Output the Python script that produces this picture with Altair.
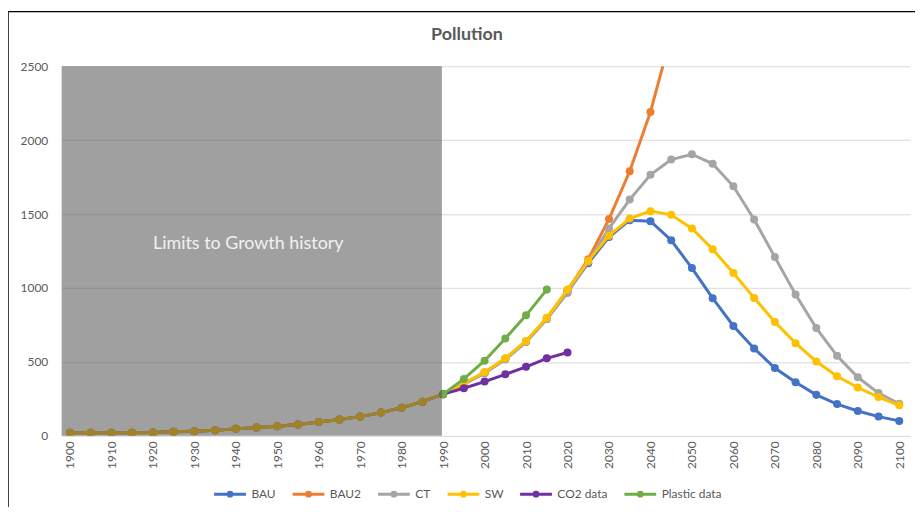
import altair as alt
import pandas as pd

FONT = "Lato"

YEARS = list(range(1900, 2105, 5))

# Shared Limits-to-Growth history 1900-1985
HISTORY = [20, 20, 20, 20, 22, 27, 31, 38, 47, 56, 65, 76, 94, 110, 130, 157, 190, 231]

# Scenario values from 1990 onward
BAU = [282, 350, 425, 518, 636, 790, 975, 1168, 1345, 1459, 1452, 1323, 1135, 931,
       743, 591, 459, 362, 277, 215, 168, 130, 101]
BAU2 = [282, 355, 428, 522, 640, 795, 985, 1195, 1466, 1790, 2191, 2710]
CT = [282, 352, 426, 519, 636, 790, 967, 1178, 1403, 1598, 1766, 1869, 1905, 1840,
      1688, 1464, 1209, 956, 729, 541, 396, 289, 217]
SW = [282, 356, 430, 524, 642, 799, 989, 1184, 1354, 1470, 1520, 1495, 1403, 1262,
      1101, 933, 770, 627, 503, 403, 327, 262, 206]
CO2_DATA = [282, 322, 367, 416, 467, 524, 564]
PLASTIC_DATA = [282, 385, 508, 658, 815, 989]

NAMES = ["BAU", "BAU2", "CT", "SW", "CO2 data", "Plastic data"]
COLORS = ["#4472C4", "#ED7D31", "#A5A5A5", "#FFC000", "#7030A0", "#70AD47"]
Y_TICKS = [0, 500, 1000, 1500, 2000, 2500]
SHADE_LABEL = "Limits to Growth history"

series_values = {
    "BAU": HISTORY + BAU,
    "BAU2": HISTORY + BAU2,
    "CT": HISTORY + CT,
    "SW": HISTORY + SW,
    "CO2 data": CO2_DATA,
    "Plastic data": PLASTIC_DATA,
}
series_start = {"BAU": 1900, "BAU2": 1900, "CT": 1900, "SW": 1900,
                "CO2 data": 1990, "Plastic data": 1990}

rows = []
for name in NAMES:
    start_idx = YEARS.index(series_start[name])
    for i, v in enumerate(series_values[name]):
        rows.append({"year": YEARS[start_idx + i], "value": v, "series": name})
df = pd.DataFrame(rows)

W, H = 854, 372

x_enc = alt.X("year:Q",
              scale=alt.Scale(domain=[1898, 2102.6], nice=False, zero=False),
              axis=alt.Axis(values=YEARS, format="d", labelAngle=270, title=None,
                            grid=False, ticks=False, domain=False, labelPadding=5,
                            labelFontSize=12, labelColor="#595959", labelFont=FONT,
                            labelOverlap=False))
y_enc = alt.Y("value:Q",
              scale=alt.Scale(domain=[0, 2500], nice=False),
              axis=alt.Axis(values=Y_TICKS, format="d", title=None, ticks=False, domain=False,
                            gridColor="#d9d9d9", gridWidth=1, labelPadding=14,
                            labelFontSize=12, labelColor="#595959", labelFont=FONT))
color_enc = alt.Color("series:N",
                      scale=alt.Scale(domain=NAMES, range=COLORS),
                      legend=alt.Legend(title=None, orient="none", direction="horizontal",
                                        legendX=152, legendY=413,
                                        symbolType="M-1,0L1,0M-0.12,0A0.12,0.12,0,1,0,0.12,0A0.12,0.12,0,1,0,-0.12,0",
                                        symbolSize=1024, symbolStrokeWidth=3,
                                        labelFontSize=12, labelColor="#595959",
                                        labelFont=FONT, labelOffset=4, columnPadding=10))

layers = []
for name in NAMES:
    base = alt.Chart(df).transform_filter(alt.datum.series == name)
    layers.append(base.mark_line(strokeWidth=3, clip=True).encode(x=x_enc, y=y_enc, color=color_enc))
    layers.append(base.mark_point(filled=True, size=65, opacity=1, clip=True)
                  .encode(x=x_enc, y=y_enc, color=color_enc))

one = pd.DataFrame({"k": [0]})
shade = alt.Chart(one).mark_rect(color="#4b4b4b", opacity=0.53).encode(
    x=alt.X(datum=1898), x2=alt.X2(datum=1989.7), y=alt.value(0), y2=alt.value(H))
label = alt.Chart(one).mark_text(color="#f2f2f2", fontSize=18, font=FONT).encode(
    x=alt.X(datum=1943), y=alt.Y(datum=1300), text=alt.value(SHADE_LABEL))
border_left = alt.Chart(one).mark_rule(color="#000000", strokeWidth=1.5).encode(
    x=alt.value(-54), y=alt.value(-55), y2=alt.value(H + 75))
border_top = alt.Chart(one).mark_rule(color="#000000", strokeWidth=1.5).encode(
    x=alt.value(-54), x2=alt.value(W + 10), y=alt.value(-55))

chart = alt.layer(*layers, shade, label, border_left, border_top).properties(
    width=W, height=H,
    title=alt.TitleParams("Pollution", fontSize=18, font=FONT, fontWeight="bold",
                          color="#595959", dx=-19, offset=-33),
    autosize=alt.AutoSizeParams(type="none"),
    padding={"left": 54, "top": 57, "right": 5, "bottom": 70},
    background="white",
).configure_view(stroke=None)

chart.save("out.html", embed_options={"renderer": "svg", "actions": False})
